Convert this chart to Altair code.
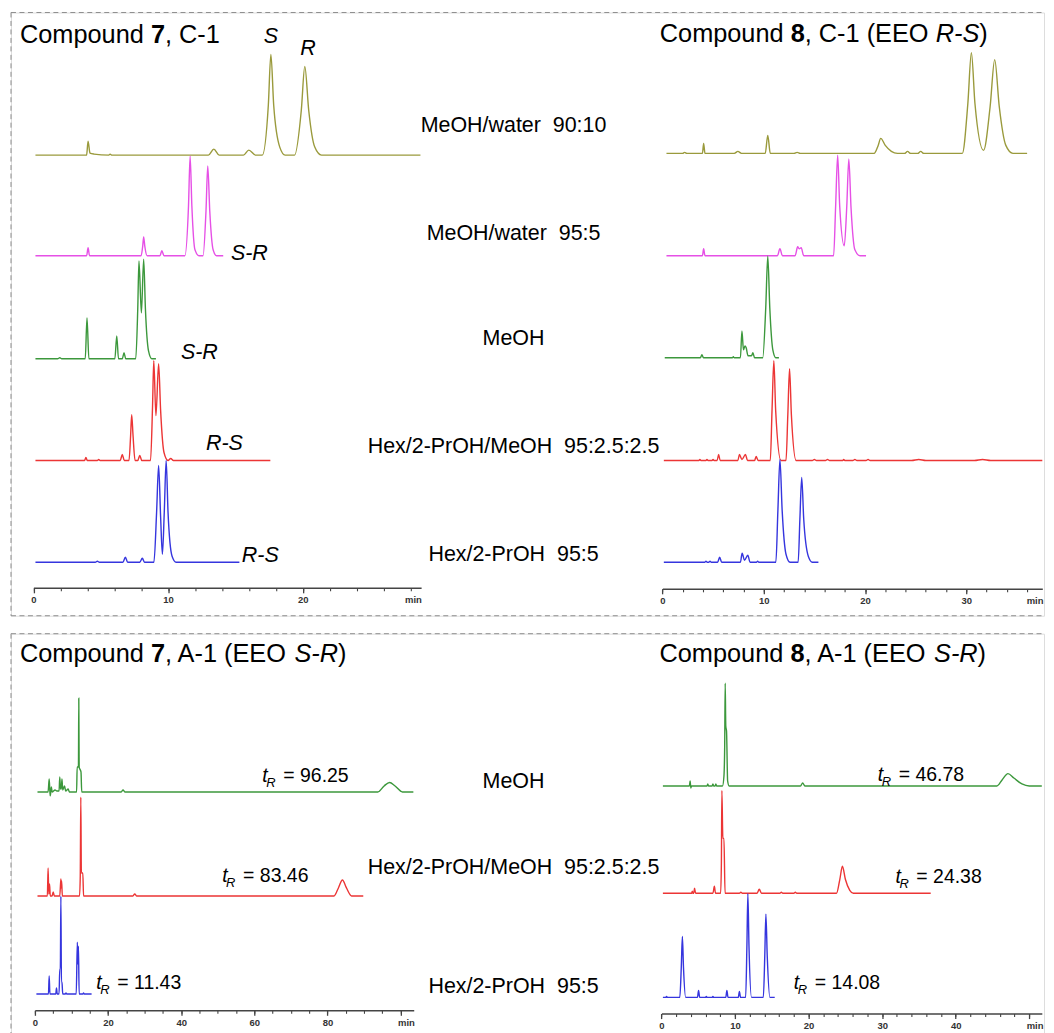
import altair as alt
import pandas as pd

# ---------------- chromatogram data: time (min) and relative detector response ----------------
# Compound 7, column C-1 (top left)
C7C1_9010_T = [0.15, 3.95, 4.06, 4.2, 4.5, 5.6, 5.7, 5.8, 13.0, 13.4, 13.8, 15.6, 16.0, 16.5, 17.0, 17.45, 17.64, 17.85, 18.3, 18.7, 19.4, 19.9, 20.16, 20.45, 20.9, 21.4, 28.75]
C7C1_9010_Y = [0, 0, 14, 2, 1, 0, 1, 0, 0, 6, 0, 0, 5, 0, 0, 50, 101, 50, 8, 0, 0, 45, 89, 45, 8, 0, 0]
C7C1_955_T = [0.15, 3.95, 4.06, 4.17, 8.0, 8.12, 8.19, 8.27, 8.45, 9.4, 9.54, 9.7, 11.25, 11.52, 11.64, 11.77, 12.0, 12.3, 12.6, 12.82, 12.95, 13.1, 13.35, 13.6, 14.1]
C7C1_955_Y = [0, 0, 8, 0, 0, 10, 19, 10, 0, 0, 5, 0, 0, 50, 100, 50, 6, 0, 0, 45, 90, 45, 6, 0, 0]
C7C1_MEOH_T = [0.15, 1.8, 1.96, 2.1, 3.85, 3.98, 4.12, 6.05, 6.19, 6.32, 6.6, 6.73, 6.86, 7.6, 7.75, 7.84, 8.02, 8.19, 8.32, 8.55, 8.8, 9.1]
C7C1_MEOH_Y = [0, 0, 1, 0, 0, 41, 0, 0, 23, 0, 0, 6, 0, 0, 50, 98, 46, 100, 50, 8, 0, 0]
C7C1_HPM_T = [0.15, 3.8, 3.9, 4.0, 4.75, 4.85, 4.95, 6.45, 6.6, 6.75, 7.1, 7.22, 7.3, 7.4, 7.55, 7.75, 7.9, 8.05, 8.7, 8.85, 8.94, 9.1, 9.3, 9.45, 9.7, 10.0, 10.2, 10.4, 17.6]
C7C1_HPM_Y = [0, 0, 3, 0, 0, 1, 0, 0, 6, 0, 0, 25, 46, 25, 0, 0, 5, 0, 0, 55, 100, 45, 97, 50, 8, 0, 2, 0, 0]
C7C1_HP_T = [0.15, 4.6, 4.75, 4.9, 6.65, 6.83, 7.0, 7.9, 8.09, 8.25, 8.95, 9.15, 9.3, 9.45, 9.58, 9.72, 9.86, 10.0, 10.3, 10.6, 15.3]
C7C1_HP_Y = [0, 0, 1, 0, 0, 5, 0, 0, 4, 0, 0, 50, 97, 45, 8, 50, 102, 50, 6, 0, 0]

# Compound 8, column C-1 (top right)
C8C1_9010_T = [0.4, 2.0, 2.2, 2.4, 3.95, 4.07, 4.2, 7.1, 7.45, 7.8, 10.15, 10.4, 10.65, 13.0, 13.3, 13.6, 20.9, 21.3, 21.55, 22.0, 22.6, 23.2, 23.9, 24.2, 24.5, 25.2, 25.5, 25.8, 29.6, 30.15, 30.5, 30.85, 31.7, 32.35, 32.8, 33.25, 33.9, 34.6, 36.0]
C8C1_9010_Y = [0, 0, 1, 0, 0, 10, 0, 0, 2, 0, 0, 18, 0, 0, 1, 0, 0, 8, 15, 8, 2, 0, 0, 2, 0, 0, 2, 0, 0, 50, 101, 50, 3, 47, 94, 47, 8, 0, 0]
C8C1_955_T = [0.4, 3.95, 4.07, 4.2, 11.35, 11.6, 11.85, 13.1, 13.35, 13.5, 13.7, 13.95, 16.9, 17.1, 17.3, 17.5, 17.95, 18.2, 18.4, 18.62, 19.0, 19.5, 20.1]
C8C1_955_Y = [0, 0, 7, 0, 0, 7, 0, 0, 9, 7, 8, 0, 0, 50, 101, 50, 10, 50, 97, 48, 6, 0, 0]
C8C1_MEOH_T = [0.23, 3.75, 3.9, 4.05, 6.9, 7.0, 7.1, 7.7, 7.85, 8.0, 8.15, 8.27, 8.45, 8.8, 8.93, 9.1, 9.9, 10.2, 10.4, 10.6, 10.9, 11.2, 11.5]
C8C1_MEOH_Y = [0, 0, 3, 0, 0, 1, 0, 0, 27, 8, 12, 10, 2, 2, 5, 0, 0, 50, 102, 50, 8, 0, 0]
C8C1_HPM_T = [0.14, 3.6, 3.7, 3.8, 4.3, 4.4, 4.5, 4.9, 5.0, 5.1, 5.4, 5.55, 5.7, 7.45, 7.6, 7.85, 8.2, 8.4, 9.1, 9.25, 9.45, 10.65, 10.82, 11.0, 11.18, 11.7, 12.2, 12.38, 12.55, 12.73, 13.2, 14.8, 15.0, 15.2, 16.1, 16.3, 16.5, 17.8, 17.9, 18.0, 18.8, 19.0, 19.2, 20.1, 20.3, 20.5, 24.6, 25.3, 26.0, 30.8, 31.6, 32.4, 37.5]
C8C1_HPM_Y = [0, 0, 1, 0, 0, 1, 0, 0, 1, 0, 0, 6, 0, 0, 6, 1, 6, 0, 0, 4, 0, 0, 50, 100, 50, 0, 0, 46, 92, 46, 0, 0, 1, 0, 0, 1, 0, 0, 1, 0, 0, 1, 0, 0, 1, 0, 0, 1, 0, 0, 1, 0, 0]
C8C1_HP_T = [0.14, 4.2, 4.3, 4.4, 4.6, 4.7, 4.8, 5.45, 5.65, 5.85, 7.7, 7.87, 8.1, 8.43, 8.65, 9.3, 9.4, 9.5, 11.2, 11.4, 11.6, 11.82, 12.2, 12.6, 13.4, 13.57, 13.75, 13.95, 14.4, 14.8, 15.4]
C8C1_HP_Y = [0, 0, 1, 0, 0, 1, 0, 0, 5, 0, 0, 9, 2, 7, 0, 0, 1, 0, 0, 52, 103, 52, 8, 0, 0, 43, 85, 43, 6, 0, 0]

# Compound 7, column A-1 (bottom left)
C7A1_MEOH_T = [0.7, 3.6, 3.9, 4.1, 4.2, 4.5, 4.7, 5.5, 6.0, 6.6, 6.8, 7.0, 7.2, 7.4, 7.6, 8.1, 8.4, 9.1, 9.4, 11.4, 11.55, 11.9, 12.0, 12.1, 12.6, 12.8, 23.6, 24.1, 24.6, 93.8, 95.5, 97.0, 98.5, 100.5, 103.5]
C7A1_MEOH_Y = [0, 0, 13, 0, -4, 5, 0, 2, 1, 1, 15, 3, 3, 13, 2, 6, 1, 3, 0, 0, 25, 25, 94, 25, 20, 0, 0, 2, 0, 0, 6, 9.5, 6, 0, 0]
C7A1_HPM_T = [0.7, 3.4, 3.6, 3.8, 4.0, 4.2, 4.7, 5.0, 5.3, 6.8, 7.1, 7.2, 7.3, 7.5, 12.2, 12.4, 12.55, 12.7, 13.1, 13.3, 26.8, 27.3, 27.8, 81.8, 83.0, 84.1, 85.2, 86.6, 89.8]
C7A1_HPM_Y = [0, 0, 28, 2, 12, 0, 0, 4, 0, 0, 17, 8, 15, 0, 0, 20, 99, 23, 23, 0, 0, 2, 0, 0, 8, 16, 8, 0, 0]
C7A1_HP_T = [0.4, 3.7, 3.9, 4.1, 5.7, 5.9, 6.1, 6.6, 6.8, 6.95, 7.1, 7.25, 7.4, 7.6, 8.3, 8.5, 8.7, 11.3, 11.6, 11.75, 11.9, 12.1, 13.1, 13.3, 13.5, 15.5]
C7A1_HP_Y = [0, 0, 18, 0, 0, 6, 0, 0, 25, 25, 98, 12, 12, 0, 0, 1, 0, 0, 52, 30, 48, 0, 0, 1, 0, 0]

# Compound 8, column A-1 (bottom right)
C8A1_MEOH_T = [0.2, 3.8, 3.9, 4.0, 4.1, 6.2, 6.3, 6.4, 6.9, 7.0, 7.1, 7.3, 7.4, 7.5, 8.3, 8.5, 8.6, 8.67, 8.75, 8.85, 9.0, 9.2, 18.9, 19.2, 19.5, 45.6, 46.3, 47.1, 47.9, 49.0, 50.0, 51.7]
C8A1_MEOH_Y = [0, 0, 5, -2, 0, 0, 2, 0, 0, 2, 0, 0, 2, 0, 0, 10, 40, 103, 60, 55, 5, 0, 0, 3, 0, 0, 6, 12.4, 8, 2, 0, 0]
C8A1_HPM_T = [0.2, 4.1, 4.2, 4.3, 4.4, 4.5, 4.65, 7.0, 7.2, 7.35, 8.05, 8.15, 8.22, 8.35, 8.5, 8.65, 10.6, 10.8, 11.0, 13.0, 13.3, 13.6, 16.1, 16.3, 16.5, 18.0, 18.2, 18.4, 23.8, 24.25, 24.6, 25.0, 25.6, 26.1, 36.6]
C8A1_HPM_Y = [0, 0, 2, 0, 0, 5, 0, 0, 7, 0, 0, 30, 103, 55, 55, 0, 0, 1, 0, 0, 4, 0, 0, 1, 0, 0, 1, 0, 0, 14, 27, 14, 3, 0, 0]
C8A1_HP_T = [0.2, 0.6, 0.7, 0.8, 2.5, 2.7, 2.85, 3.0, 3.3, 4.9, 5.05, 5.2, 6.0, 6.1, 6.2, 6.9, 7.0, 7.1, 8.75, 8.9, 9.05, 10.45, 10.6, 10.75, 11.45, 11.62, 11.75, 11.9, 12.25, 13.85, 14.05, 14.2, 14.38, 14.75, 15.4]
C8A1_HP_Y = [0, 0, 1, 0, 0, 30, 61, 30, 0, 0, 7, 0, 0, 1, 0, 0, 1, 0, 0, 7, 0, 0, 6, 0, 0, 52, 104, 52, 0, 0, 42, 83.5, 42, 0, 0]

# ---------------- texts ----------------
TOP_PHASES = ["MeOH/water\u00a0 90:10", "MeOH/water\u00a0 95:5", "MeOH", "Hex/2-PrOH/MeOH\u00a0 95:2.5:2.5", "Hex/2-PrOH\u00a0 95:5"]
BOT_PHASES = ["MeOH", "Hex/2-PrOH/MeOH\u00a0 95:2.5:2.5", "Hex/2-PrOH\u00a0 95:5"]
TL_PEAK_TEXT = ["S", "R", "S-R", "S-R", "R-S", "R-S"]
TL_PEAK_T = [17.64, 20.39, 16.04, 12.33, 14.19, 16.85]
BL_TR_VALUES = ["96.25", "83.46", "11.43"]
BR_TR_VALUES = ["46.78", "24.38", "14.08"]

# ---------------- layout / style constants ----------------
FONT = "Liberation Sans"
W, TOP_H, BOT_H = 1036, 605, 412
TOP_COLORS = ["#9a9a3c", "#e650e6", "#3c983c", "#ec3535", "#3535de"]
BOT_COLORS = ["#3c983c", "#ec3535", "#3535de"]
TL_BASE = [462, 361, 257.7, 155.7, 53.7]
TR_BASE = [463.7, 361, 258.7, 155.7, 53.7]
BL_BASE = [253.3, 149, 50.7]
BR_BASE = [259.3, 151.7, 47.3]
TOP_PHASE_V = [485.3, 377, 272, 163, 55.3]
BOT_PHASE_V = [257.7, 171, 51.7]
TL_PEAK_V = [574.3, 562.7, 357, 257, 166, 54.3]
BL_TR_T, BL_TR_V = [62.2, 51.2, 16.8], [263.3, 162.7, 56]
BR_TR_T, BR_TR_V = [29.4, 31.8, 18.0], [264.3, 162.3, 55.7]
MID_X = 504
AX = "#444444"
FRAME = "#8f8f8f"

Q = {
    "TL": dict(dom=[0, 28.8], rng=[22.5, 411.3], H=TOP_H, off=-28, major=[0, 10, 20],
               minor=list(range(0, 29, 2)), hide=None, tx=411.5),
    "TR": dict(dom=[0, 37.5], rng=[653.3, 1034.3], H=TOP_H, off=-27, major=[0, 10, 20, 30],
               minor=list(range(0, 38, 2)), hide=None, tx=1035),
    "BL": dict(dom=[0, 103.6], rng=[24, 403.9], H=BOT_H, off=-34.3, major=[0, 20, 40, 60, 80, 100],
               minor=list(range(0, 101, 5)), hide=100, tx=404.5),
    "BR": dict(dom=[0, 51.7], rng=[652.3, 1033.8], H=BOT_H, off=-31, major=[0, 10, 20, 30, 40, 50],
               minor=list(range(0, 51, 2)), hide=50, tx=1035),
}


def xenc(q, axis=None):
    c = Q[q]
    return alt.X("t:Q", scale=alt.Scale(domain=c["dom"], range=c["rng"], nice=False, zero=False), axis=axis)


def yenc(q):
    return alt.Y("v:Q", scale=alt.Scale(domain=[0, Q[q]["H"]], nice=False, zero=False), axis=None)


def major_axis(q):
    c = Q[q]
    expr = "datum.label" if c["hide"] is None else f"datum.value >= {c['hide']} ? '' : datum.label"
    return alt.Axis(orient="bottom", values=c["major"], tickSize=5, tickWidth=1.3, tickColor=AX,
                    domainColor=AX, domainWidth=1.5, labelExpr=expr, labelFlush=False,
                    labelOverlap=False, labelPadding=2, labelFontSize=9.5, labelFontWeight="bold",
                    labelColor="#333333", labelFont=FONT, grid=False, offset=c["off"],
                    title="min", titleX=c["tx"], titleY=7, titleAlign="right", titleBaseline="top",
                    titleFontSize=9.5, titleFontWeight="bold", titleColor="#333333", titleFont=FONT)


def minor_axis(q):
    c = Q[q]
    return alt.Axis(orient="bottom", values=c["minor"], tickSize=3, tickWidth=1.1, tickColor=AX,
                    domain=False, labels=False, grid=False, offset=c["off"], title=None)


def trace_layers(q, traces, bases, colors):
    frames = []
    for i, (ts, ys) in enumerate(traces):
        frames.append(pd.DataFrame({"t": ts, "v": [bases[i] + y for y in ys],
                                    "trace": f"{q}{i}", "col": colors[i]}))
    df = pd.concat(frames, ignore_index=True)
    lines = alt.Chart(df).mark_line(strokeWidth=1.4, interpolate="monotone").encode(
        x=xenc(q, major_axis(q)), y=yenc(q),
        color=alt.Color("col:N", scale=None), detail="trace:N")
    minor = alt.Chart(df).mark_line(opacity=0).encode(
        x=xenc(q, minor_axis(q)), y=yenc(q), detail="trace:N")
    return [lines, minor]


def text_layer(q, ts, vs, texts, dx=0, dy=0, size=21.5, weight="normal", style="normal", align="left"):
    df = pd.DataFrame({"t": ts, "v": vs, "label": texts})
    return alt.Chart(df).mark_text(dx=dx, dy=dy, fontSize=size, fontWeight=weight, fontStyle=style,
                                   align=align, baseline="alphabetic", font=FONT, color="black").encode(
        x=xenc(q), y=yenc(q), text="label:N")


def mid_layer(q, vs, texts):
    df = pd.DataFrame({"v": vs, "label": texts})
    return alt.Chart(df).mark_text(fontSize=21.5, align="center", baseline="alphabetic", font=FONT,
                                   color="black").encode(x=alt.value(MID_X), y=yenc(q), text="label:N")


def title_layers(q, t, v, num, parts):
    out = [text_layer(q, [t], [v], ["Compound"], size=25.4)]
    out.append(text_layer(q, [t], [v], [num], dx=131.3, size=25.4, weight="bold"))
    for txt, dx, st in parts:
        out.append(text_layer(q, [t], [v], [txt], dx=dx, size=25.4, style=st))
    return out


def tr_layers(q, ts, vs, vals):
    return [
        text_layer(q, ts, vs, ["t"] * len(ts), size=19.5, style="italic"),
        text_layer(q, ts, vs, ["R"] * len(ts), dx=4, dy=5, size=13, style="italic"),
        text_layer(q, ts, vs, ["= " + s for s in vals], dx=21, size=19.5),
    ]


def frame_layers(h, with_bottom):
    dash = dict(color=FRAME, strokeDash=[5, 3.5], strokeWidth=1)
    out = [
        alt.Chart().mark_rule(**dash).encode(x=alt.value(0), x2=alt.value(W), y=alt.value(0)),
        alt.Chart().mark_rule(**dash).encode(x=alt.value(0), y=alt.value(0), y2=alt.value(h)),
    ]
    if with_bottom:
        out.append(alt.Chart().mark_rule(**dash).encode(x=alt.value(0), x2=alt.value(W), y=alt.value(h)))
    return out


# ---------------- top panel ----------------
top_layers = frame_layers(TOP_H, True)
top_layers += trace_layers("TL", [(C7C1_9010_T, C7C1_9010_Y), (C7C1_955_T, C7C1_955_Y), (C7C1_MEOH_T, C7C1_MEOH_Y),
                                  (C7C1_HPM_T, C7C1_HPM_Y), (C7C1_HP_T, C7C1_HP_Y)], TL_BASE, TOP_COLORS)
top_layers += trace_layers("TR", [(C8C1_9010_T, C8C1_9010_Y), (C8C1_955_T, C8C1_955_Y), (C8C1_MEOH_T, C8C1_MEOH_Y),
                                  (C8C1_HPM_T, C8C1_HPM_Y), (C8C1_HP_T, C8C1_HP_Y)], TR_BASE, TOP_COLORS)
top_layers += title_layers("TL", -1.0, 574.3, "7", [(", C-1", 145.4, "normal")])
top_layers += title_layers("TR", -0.26, 575.3, "8", [(", C-1 (EEO", 145.4, "normal"), ("R-S", 276.7, "italic"),
                                                    (")", 320.4, "normal")])
top_layers.append(text_layer("TL", TL_PEAK_T, TL_PEAK_V, TL_PEAK_TEXT, style="italic", align="center"))
top_layers.append(mid_layer("TL", TOP_PHASE_V, TOP_PHASES))

top = alt.layer(*top_layers).resolve_scale(x="independent").properties(width=W, height=TOP_H)

# ---------------- bottom panel ----------------
bot_layers = frame_layers(BOT_H, False)
bot_layers += trace_layers("BL", [(C7A1_MEOH_T, C7A1_MEOH_Y), (C7A1_HPM_T, C7A1_HPM_Y), (C7A1_HP_T, C7A1_HP_Y)],
                           BL_BASE, BOT_COLORS)
bot_layers += trace_layers("BR", [(C8A1_MEOH_T, C8A1_MEOH_Y), (C8A1_HPM_T, C8A1_HPM_Y), (C8A1_HP_T, C8A1_HP_Y)],
                           BR_BASE, BOT_COLORS)
bot_layers += title_layers("BL", -4.09, 384, "7", [(", A-1 (EEO", 145.4, "normal"), ("S-R", 275.3, "italic"),
                                                   (")", 319.0, "normal")])
bot_layers += title_layers("BR", -0.26, 383.3, "8", [(", A-1 (EEO", 145.4, "normal"), ("S-R", 275.3, "italic"),
                                                    (")", 319.0, "normal")])
bot_layers += tr_layers("BL", BL_TR_T, BL_TR_V, BL_TR_VALUES)
bot_layers += tr_layers("BR", BR_TR_T, BR_TR_V, BR_TR_VALUES)
bot_layers.append(mid_layer("BL", BOT_PHASE_V, BOT_PHASES))

bottom = alt.layer(*bot_layers).resolve_scale(x="independent").properties(width=W, height=BOT_H)

chart = alt.vconcat(top, bottom, spacing=16).properties(
    padding={"left": 2, "top": 2, "right": 0, "bottom": 0},
    background="white",
).configure_view(stroke="transparent").configure(font=FONT)

chart.save("out.html", embed_options={"renderer": "svg", "actions": False})
